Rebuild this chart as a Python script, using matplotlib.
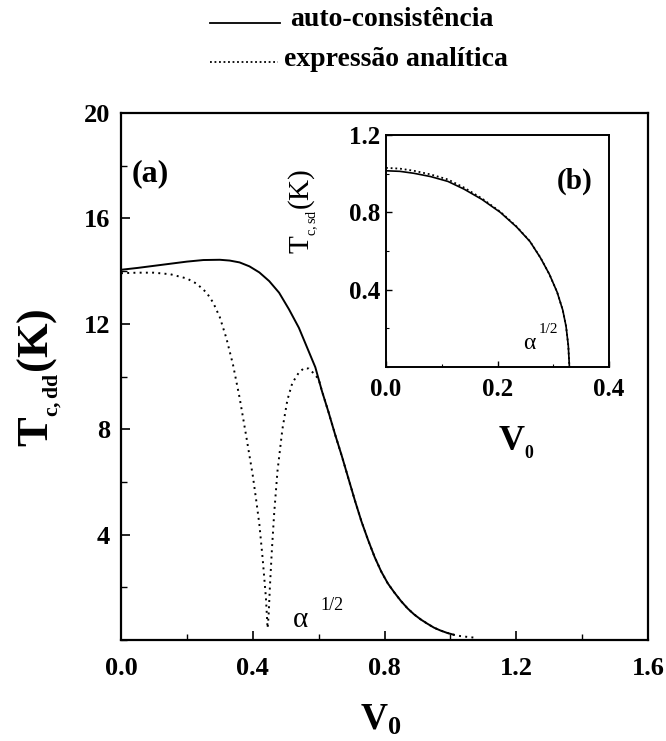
import matplotlib
matplotlib.use("Agg")
import matplotlib.pyplot as plt
from matplotlib.lines import Line2D
from matplotlib.ticker import MultipleLocator, FixedLocator

plt.rcParams['font.family'] = ['Liberation Serif', 'DejaVu Serif']
plt.rcParams['mathtext.fontset'] = 'custom'
plt.rcParams['mathtext.rm'] = 'Liberation Serif'
plt.rcParams['mathtext.it'] = 'Liberation Serif:italic'
plt.rcParams['mathtext.bf'] = 'Liberation Serif:bold'

# ---- panel (a): Tc,dd versus V0 ----
v0_sc = [0.00, 0.05, 0.10, 0.15, 0.20, 0.25, 0.30, 0.33, 0.36, 0.39, 0.42, 0.45,
         0.48, 0.51, 0.54, 0.57, 0.59, 0.61, 0.63, 0.65, 0.67, 0.69, 0.71, 0.73,
         0.75, 0.77, 0.79, 0.81, 0.83, 0.85, 0.87, 0.89, 0.91, 0.93, 0.95, 0.97,
         0.99, 1.01]
tc_sc = [14.05, 14.12, 14.20, 14.28, 14.36, 14.42, 14.43, 14.40, 14.33, 14.18, 13.95, 13.62,
         13.18, 12.55, 11.85, 10.95, 10.35, 9.45, 8.65, 7.80, 7.00, 6.15, 5.30, 4.50,
         3.80, 3.15, 2.60, 2.15, 1.80, 1.48, 1.20, 0.97, 0.78, 0.62, 0.47, 0.36,
         0.27, 0.20]

v0_an = [0.00, 0.05, 0.10, 0.15, 0.20, 0.23, 0.26, 0.28, 0.30, 0.32, 0.34, 0.36,
         0.38, 0.40, 0.41, 0.42, 0.43, 0.44, 0.445, 0.448, 0.452, 0.458, 0.465, 0.475,
         0.49, 0.505, 0.52, 0.54, 0.556, 0.57, 0.585, 0.60, 0.61, 0.63, 0.65, 0.67,
         0.69, 0.71, 0.73, 0.75, 0.77, 0.79, 0.81, 0.83, 0.85, 0.87, 0.89, 0.91,
         0.93, 0.95, 0.97, 0.99, 1.01, 1.03, 1.05, 1.08]
tc_an = [13.92, 13.94, 13.94, 13.88, 13.72, 13.52, 13.18, 12.80, 12.25, 11.45, 10.45, 9.20,
         7.75, 6.25, 5.35, 4.40, 3.10, 1.60, 0.45, 0.90, 2.00, 3.40, 4.80, 6.40,
         8.00, 9.10, 9.75, 10.15, 10.32, 10.30, 10.12, 9.90, 9.45, 8.65, 7.80, 7.00,
         6.15, 5.30, 4.50, 3.80, 3.15, 2.60, 2.15, 1.80, 1.48, 1.20, 0.97, 0.78,
         0.62, 0.47, 0.36, 0.27, 0.20, 0.15, 0.12, 0.08]

# ---- panel (b): Tc,sd versus V0 ----
v0_b = [0.000, 0.025, 0.050, 0.080, 0.111, 0.140, 0.172, 0.205, 0.234, 0.258, 0.277,
        0.293, 0.307, 0.317, 0.323, 0.327, 0.329]
tc_b_sc = [1.015, 1.012, 1.002, 0.985, 0.960, 0.920, 0.867, 0.800, 0.725, 0.650, 0.565,
           0.480, 0.387, 0.295, 0.210, 0.110, 0.000]
tc_b_an = [1.030, 1.026, 1.015, 0.996, 0.970, 0.928, 0.872, 0.803, 0.727, 0.651, 0.566,
           0.480, 0.387, 0.295, 0.210, 0.110, 0.000]

main_xticks = [0.0, 0.4, 0.8, 1.2, 1.6]
main_xlabels = ['0.0', '0.4', '0.8', '1.2', '1.6']
main_yticks = [4, 8, 12, 16, 20]
main_ylabels = ['4', '8', '12', '16', '20']
ins_xticks = [0.0, 0.2, 0.4]
ins_xlabels = ['0.0', '0.2', '0.4']
ins_yticks = [0.4, 0.8, 1.2]
ins_ylabels = ['0.4', '0.8', '1.2']

legend_labels = ['auto-consistência', 'expressão analítica']

W, H = 666, 741
fig = plt.figure(figsize=(W / 100, H / 100), dpi=100)


def box(l, t, r, b):
    """Axes rectangle from pixel edges (origin at top-left)."""
    return [l / W, 1 - b / H, (r - l) / W, (b - t) / H]


ax = fig.add_axes(box(121, 113, 648, 640))
ax.plot(v0_sc, tc_sc, color='black', lw=1.4, solid_joinstyle='round')
ax.plot(v0_an, tc_an, color='black', lw=1.4, linestyle=(0, (1, 2.2)))
ax.set_xlim(0, 1.6)
ax.set_ylim(0, 20)
ax.xaxis.set_major_locator(FixedLocator(main_xticks))
ax.set_xticklabels(main_xlabels)
ax.yaxis.set_major_locator(FixedLocator(main_yticks))
ax.set_yticklabels(main_ylabels)
ax.xaxis.set_minor_locator(MultipleLocator(0.2))
ax.yaxis.set_minor_locator(MultipleLocator(2))
ax.tick_params(which='both', direction='in', top=False, right=False)
ax.tick_params(axis='x', which='major', length=6.5, width=1.2, labelsize=19, pad=12)
ax.tick_params(axis='y', which='major', length=6.5, width=1.2, labelsize=19, pad=8)
ax.tick_params(which='minor', length=4, width=1.0)
for lab in ax.get_xticklabels() + ax.get_yticklabels():
    lab.set_fontweight('bold')
for sp in ax.spines.values():
    sp.set_linewidth(1.6)

ax.set_xlabel(r'$\mathbf{V}_{\mathbf{0}}$', fontsize=27)
ax.xaxis.set_label_coords((381 - 121) / 527, -(703 - 640) / 527)
ax.set_ylabel(r'$\mathbf{T}_{_{\mathbf{c,dd}}}\mathbf{(K)}$', fontsize=32)
ax.yaxis.set_label_coords((64 - 121) / 527, (640 - 378) / 527)

ax.text(0.033, 17.7, '(a)', fontsize=23, fontweight='bold', va='center', ha='left')
ax.text(0.544, 0.76, 'α', fontsize=21, ha='center', va='center')
ax.text(0.606, 1.3, '1/2', fontsize=13, ha='left', va='center')

# ---- inset ----
ins = fig.add_axes(box(386, 135, 609, 367))
ins.plot(v0_b, tc_b_sc, color='black', lw=1.2)
ins.plot(v0_b, tc_b_an, color='black', lw=1.3, linestyle=(0, (1, 1.6)))
ins.set_xlim(0, 0.4)
ins.set_ylim(0, 1.2)
ins.xaxis.set_major_locator(FixedLocator(ins_xticks))
ins.set_xticklabels(ins_xlabels)
ins.yaxis.set_major_locator(FixedLocator(ins_yticks))
ins.set_yticklabels(ins_ylabels)
ins.xaxis.set_minor_locator(MultipleLocator(0.1))
ins.yaxis.set_minor_locator(MultipleLocator(0.2))
ins.tick_params(which='both', direction='in', top=False, right=False)
ins.tick_params(axis='x', which='major', length=4.5, width=1.0, labelsize=18, pad=8)
ins.tick_params(axis='y', which='major', length=4.5, width=1.0, labelsize=18, pad=4)
ins.tick_params(which='minor', length=2.5, width=0.8)
for lab in ins.get_xticklabels() + ins.get_yticklabels():
    lab.set_fontweight('bold')
for sp in ins.spines.values():
    sp.set_linewidth(1.4)
ins.set_xlabel(r'$\mathbf{V}_{_{\mathbf{0}}}$', fontsize=26)
ins.xaxis.set_label_coords((516 - 386) / 223, -(424 - 367) / 232)
ins.set_ylabel(r'$\mathrm{T}_{_{\mathrm{c,sd}}}\mathrm{(K)}$', fontsize=21)
ins.yaxis.set_label_coords((320 - 386) / 223, (367 - 211) / 232)
ins.text(0.339, 0.96, '(b)', fontsize=21, fontweight='bold', ha='center', va='center')
ins.text(0.2565, 0.12, 'α', fontsize=17, ha='center', va='center')
ins.text(0.2745, 0.195, '1/2', fontsize=11, ha='left', va='center')

# ---- legend above the plot ----
fig.add_artist(Line2D([210 / W, 280 / W], [1 - 23 / H, 1 - 23 / H], color='black', lw=1.3,
                      transform=fig.transFigure))
fig.add_artist(Line2D([210 / W, 278 / W], [1 - 62 / H, 1 - 62 / H], color='black', lw=1.3,
                      linestyle=(0, (1, 1.5)), transform=fig.transFigure))
fig.text(290 / W, 1 - 20 / H, legend_labels[0], fontsize=20, fontweight='bold',
         va='center', ha='left')
fig.text(284 / W, 1 - 60 / H, legend_labels[1], fontsize=20, fontweight='bold',
         va='center', ha='left')

fig.savefig('out.png', dpi=100)
